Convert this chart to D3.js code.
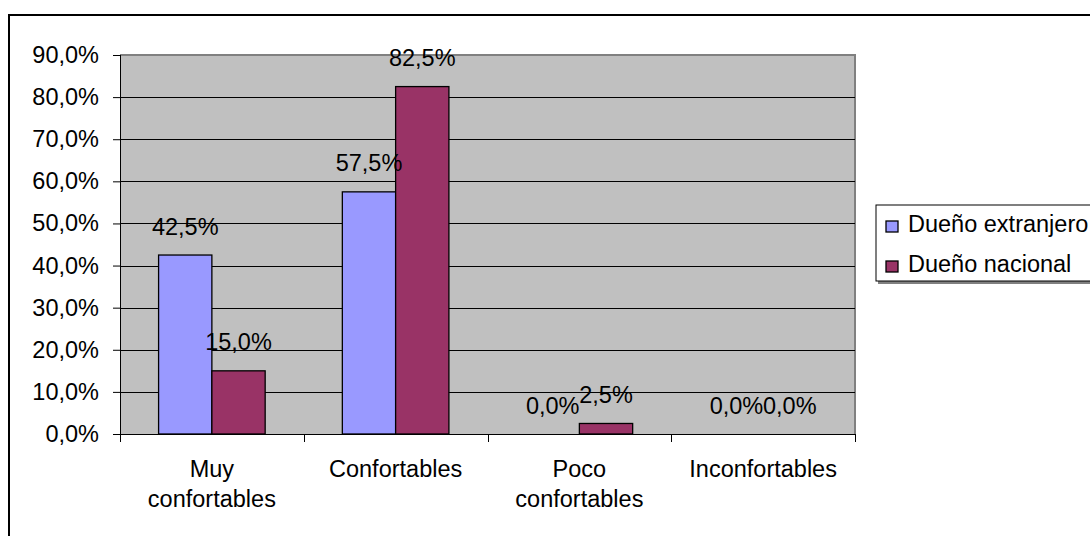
<!DOCTYPE html>
<html>
<head>
<meta charset="utf-8">
<script src="https://cdn.jsdelivr.net/npm/d3@7"></script>
<style>
  html, body { margin: 0; padding: 0; background: #fff; overflow: hidden; }
  svg text { font-family: "Liberation Sans", Arial, sans-serif; fill: #000; }
</style>
</head>
<body>
<svg id="chart" width="1090" height="536"></svg>
<script>
// Comfort ratings by type of owner
const categories = [["Muy", "confortables"], ["Confortables"], ["Poco", "confortables"], ["Inconfortables"]];
const seriesNames = ["Dueño extranjero", "Dueño nacional"];
const extranjero = [0.425, 0.575, 0.0, 0.0];
const nacional = [0.15, 0.825, 0.025, 0.0];
const yTicks = [0, 0.1, 0.2, 0.3, 0.4, 0.5, 0.6, 0.7, 0.8, 0.9];
const colors = ["#9999FF", "#993366"];

const series = [extranjero, nacional];
const fontSize = 23.5;
const svg = d3.select("#chart");

// outer chart frame
svg.append("rect")
  .attr("x", 9).attr("y", 15)
  .attr("width", 1200).attr("height", 600)
  .attr("fill", "#fff").attr("stroke", "#000").attr("stroke-width", 2);

const plot = { left: 120, top: 55, right: 855, bottom: 434 };

const x0 = d3.scaleBand()
  .domain(d3.range(categories.length))
  .range([plot.left, plot.right])
  .paddingInner(0).paddingOuter(0);

const groupPad = 0.21;
const x1 = d3.scaleBand()
  .domain(d3.range(series.length))
  .range([x0.bandwidth() * groupPad, x0.bandwidth() * (1 - groupPad)]);

const y = d3.scaleLinear().domain([0, 0.9]).range([plot.bottom, plot.top]);

// plot background
svg.append("rect")
  .attr("x", plot.left).attr("y", plot.top)
  .attr("width", plot.right - plot.left).attr("height", plot.bottom - plot.top)
  .attr("fill", "#C0C0C0");

// plot border (top and right) in grey
svg.append("path")
  .attr("d", `M${plot.left},${plot.top}H${plot.right}V${plot.bottom}`)
  .attr("fill", "none").attr("stroke", "#808080").attr("stroke-width", 2);

// horizontal gridlines
svg.append("g").selectAll("line")
  .data(yTicks.filter(t => t > 0 && t < 0.9))
  .join("line")
  .attr("x1", plot.left).attr("x2", plot.right)
  .attr("y1", d => Math.round(y(d)) + 0.5).attr("y2", d => Math.round(y(d)) + 0.5)
  .attr("stroke", "#000").attr("stroke-width", 1);

// bars
const fmt = v => d3.format(".1f")(v * 100).replace(".", ",") + "%";
const groups = svg.append("g").selectAll("g")
  .data(categories.map((c, i) => i))
  .join("g")
  .attr("transform", i => `translate(${x0(i)},0)`);

groups.selectAll("rect")
  .data(i => series.map((s, k) => ({ k, v: s[i] })))
  .join("rect")
  .filter(d => d.v > 0)
  .attr("x", d => x1(d.k))
  .attr("y", d => y(d.v))
  .attr("width", x1.bandwidth())
  .attr("height", d => y(0) - y(d.v))
  .attr("fill", d => colors[d.k])
  .attr("stroke", "#000").attr("stroke-width", 1.3);

// value labels
groups.selectAll("text")
  .data(i => series.map((s, k) => ({ k, v: s[i] })))
  .join("text")
  .attr("x", d => x1(d.k) + x1.bandwidth() / 2)
  .attr("y", d => y(d.v) - 20.5)
  .attr("text-anchor", "middle")
  .attr("font-size", fontSize)
  .text(d => fmt(d.v));

// y axis
const yAxis = d3.axisLeft(y)
  .tickValues(yTicks)
  .tickSize(7)
  .tickPadding(14)
  .tickFormat(d => d3.format(".1f")(d * 100).replace(".", ",") + "%");
const yg = svg.append("g").attr("transform", `translate(${plot.left},0)`).call(yAxis);
yg.selectAll("text").attr("font-size", fontSize).attr("font-family", null);
yg.select(".domain").attr("stroke", "#000").attr("d", `M0.5,${plot.top}V${plot.bottom}`);
yg.selectAll(".tick line").attr("stroke", "#000");

// x axis with category separators
svg.append("line")
  .attr("x1", plot.left).attr("x2", plot.right)
  .attr("y1", plot.bottom + 0.5).attr("y2", plot.bottom + 0.5)
  .attr("stroke", "#000");
svg.append("g").selectAll("line")
  .data(d3.range(categories.length + 1))
  .join("line")
  .attr("x1", i => Math.round(plot.left + i * x0.bandwidth()) + 0.5)
  .attr("x2", i => Math.round(plot.left + i * x0.bandwidth()) + 0.5)
  .attr("y1", plot.bottom).attr("y2", plot.bottom + 8)
  .attr("stroke", "#000");

// category labels
svg.append("g").selectAll("text")
  .data(categories)
  .join("text")
  .attr("x", (c, i) => x0(i) + x0.bandwidth() / 2)
  .attr("y", 477)
  .attr("text-anchor", "middle")
  .attr("font-size", fontSize)
  .selectAll("tspan")
  .data(c => c)
  .join("tspan")
  .attr("x", function () { return this.parentNode.getAttribute("x"); })
  .attr("dy", (d, j) => j === 0 ? 0 : 30)
  .text(d => d);

// legend
const lg = svg.append("g");
lg.append("rect")
  .attr("x", 878).attr("y", 207).attr("width", 260).attr("height", 77)
  .attr("fill", "#808080");
lg.append("rect")
  .attr("x", 876).attr("y", 205).attr("width", 260).attr("height", 76)
  .attr("fill", "#fff").attr("stroke", "#000").attr("stroke-width", 1);
const items = lg.selectAll("g.item")
  .data(seriesNames)
  .join("g")
  .attr("class", "item")
  .attr("transform", (d, i) => `translate(0,${i * 40})`);
items.append("rect")
  .attr("x", 886).attr("y", 221).attr("width", 12).attr("height", 11)
  .attr("fill", (d, i) => colors[i])
  .attr("stroke", "#000").attr("stroke-width", 1.3);
items.append("text")
  .attr("x", 908).attr("y", 232)
  .attr("font-size", fontSize)
  .text(d => d);
</script>
</body>
</html>
